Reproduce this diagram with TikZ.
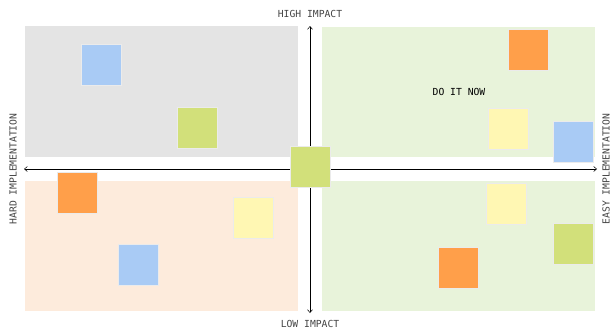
\documentclass[tikz,border=0pt]{standalone}
\usepackage{fontspec}
\setmonofont{DejaVu Sans Mono}
\usepackage{tikz}
\definecolor{greyzone}{RGB}{228,228,228}
\definecolor{greenzone}{RGB}{232,243,218}
\definecolor{peachzone}{RGB}{253,235,220}
\definecolor{bluenote}{RGB}{169,203,245}
\definecolor{limenote}{RGB}{210,224,122}
\definecolor{orangenote}{RGB}{255,159,74}
\definecolor{yellownote}{RGB}{255,247,179}
\definecolor{labelgrey}{RGB}{68,68,68}
\usetikzlibrary{arrows.meta}

\begin{document}
\begin{tikzpicture}[x=1pt,y=-1pt,
        note/.style={minimum width=40pt,minimum height=41pt,inner sep=0pt,draw=black!8,line width=0.4pt},
        caption/.style={font=\ttfamily\fontsize{9.7}{11}\selectfont,inner sep=0pt,text=labelgrey},
        axis/.style={line width=0.5pt,-{Straight Barb[length=3pt,width=5pt]}}]
        \useasboundingbox (0,0) rectangle (612,335);

        % quadrants
        \fill[greyzone] (25,26) rectangle (298,157);
        \fill[greenzone] (322,27) rectangle (595,157);
        \fill[peachzone] (25,181) rectangle (298,311);
        \fill[greenzone] (322,181) rectangle (595,311);

        % axes
        \coordinate (c) at (310,169);
        \coordinate (top) at (310,26);
        \coordinate (bottom) at (310,313);
        \coordinate (left) at (24,169);
        \coordinate (right) at (597,169);
        \draw[axis] (c) -- (top);
        \draw[axis] (c) -- (bottom);
        \draw[axis] (c) -- (left);
        \draw[axis] (c) -- (right);

        \node[caption] (high) at (310,14) {HIGH IMPACT};
        \node[caption] (low) at (310,324) {LOW IMPACT};
        \node[caption,rotate=90] (hard) at (13,169) {HARD IMPLEMENTATION};
        \node[caption,rotate=90] (easy) at (606,169) {EASY IMPLEMENTATION};
        \node[caption,text=black] (now) at (459,92) {DO IT NOW};

        % sticky notes
        \node[note,fill=limenote] (n0) at (310,166.5) {};
        \node[note,fill=bluenote] (n1) at (101,65) {};
        \node[note,fill=limenote] (n2) at (197.5,128) {};
        \node[note,fill=orangenote] (n3) at (528,49.5) {};
        \node[note,fill=yellownote] (n4) at (508,129) {};
        \node[note,fill=bluenote] (n5) at (573,141.5) {};
        \node[note,fill=orangenote] (n6) at (77,192.5) {};
        \node[note,fill=yellownote] (n7) at (253,217.5) {};
        \node[note,fill=bluenote] (n8) at (138.5,265) {};
        \node[note,fill=yellownote] (n9) at (506,204) {};
        \node[note,fill=limenote] (n10) at (573,244) {};
        \node[note,fill=orangenote] (n11) at (458.5,267.5) {};
    \end{tikzpicture}
\end{document}
